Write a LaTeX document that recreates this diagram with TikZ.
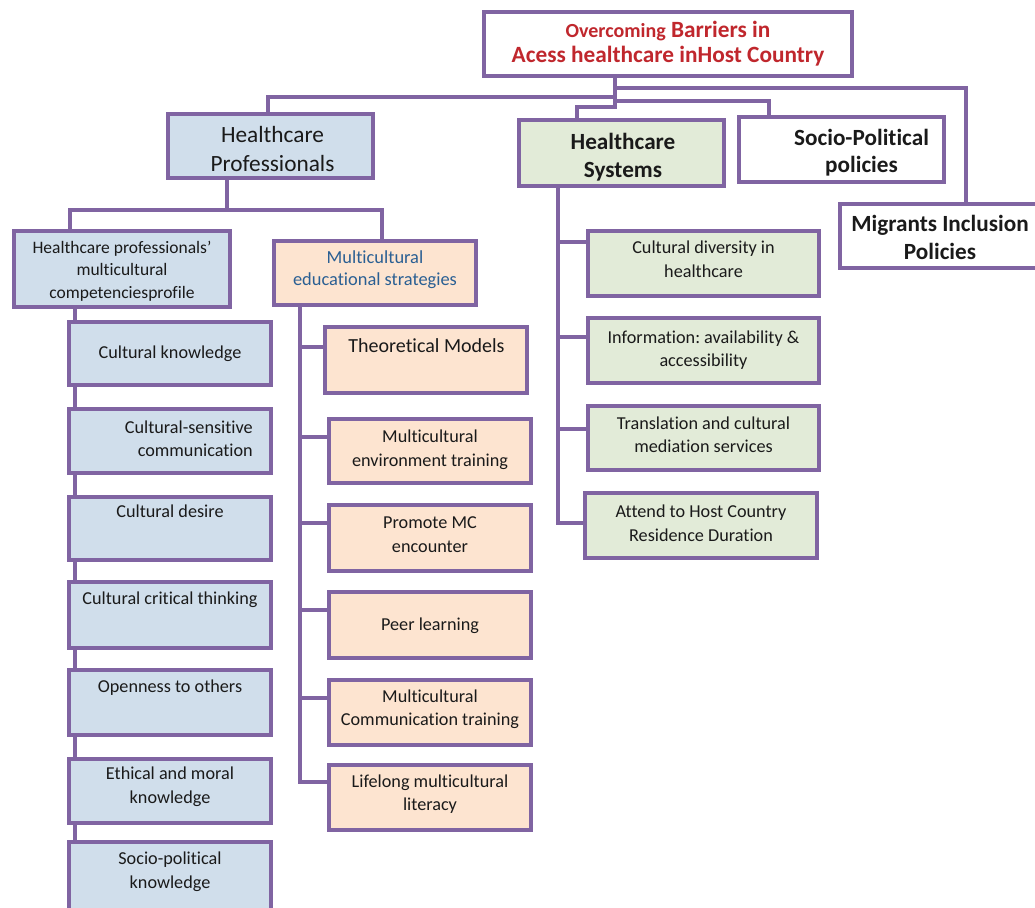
\documentclass[tikz,border=0pt]{standalone}
\usepackage{fontspec}
\setmainfont{Carlito}[Ligatures={TeX,NoCommon}]
\frenchspacing
\usetikzlibrary{backgrounds}
\definecolor{frame}{HTML}{8064A2}
\definecolor{bluefill}{HTML}{D0DEEB}
\definecolor{greenfill}{HTML}{E2EBD8}
\definecolor{peachfill}{HTML}{FDE4D0}
\definecolor{titlered}{HTML}{C0272D}
\definecolor{stratblue}{HTML}{2A5F93}
\definecolor{ink}{HTML}{1A1A1A}
\begin{document}
\begin{tikzpicture}[x=1pt,y=-1pt,
  box/.style={draw=frame, line width=4pt, rectangle, inner sep=0pt},
  size/.style 2 args={minimum width=#1, minimum height=#2},
  txt/.style={align=center, inner sep=0pt, text=ink,
    execute at begin node=\strut, execute at end node=\strut},
  link/.style={draw=frame, line width=4pt, line cap=rect},
  small/.style={font=\fontsize{18.2}{23.5}\selectfont},
  head/.style={font=\fontsize{23.2}{27.5}\selectfont\bfseries},
]
\useasboundingbox (0,0) rectangle (1035,907);

% ---- frames ----
\node[box, fill=white, size={368pt}{64pt}] (root) at (668,44) {};
\node[box, fill=bluefill, size={205pt}{64pt}] (hp) at (270.5,146) {};
\node[box, fill=greenfill, size={205pt}{66pt}] (hs) at (621.5,153) {};
\node[box, fill=white, size={205pt}{65.5pt}] (sp) at (841.5,149.25) {};
\node[box, fill=white, size={200pt}{64pt}] (mi) at (940,236) {};

\node[box, fill=bluefill, size={216pt}{76pt}] (hpmc) at (122,269) {};
\node[box, fill=peachfill, size={202pt}{64pt}] (mes) at (375,273) {};

\node[box, fill=bluefill, size={202pt}{63pt}] (ck) at (170,353.5) {};
\node[box, fill=bluefill, size={202pt}{64pt}] (csc) at (170,441) {};
\node[box, fill=bluefill, size={202pt}{63pt}] (cd) at (170,528.5) {};
\node[box, fill=bluefill, size={202pt}{66pt}] (cct) at (170,615) {};
\node[box, fill=bluefill, size={202pt}{65pt}] (oo) at (170,702.5) {};
\node[box, fill=bluefill, size={202pt}{64pt}] (emk) at (170,791) {};
\node[box, fill=bluefill, size={202pt}{70pt}] (spk) at (170,877) {};

\node[box, fill=peachfill, size={202pt}{66pt}] (tm) at (426,360) {};
\node[box, fill=peachfill, size={202pt}{64pt}] (met) at (430,451) {};
\node[box, fill=peachfill, size={202pt}{66pt}] (pmc) at (430,538) {};
\node[box, fill=peachfill, size={202pt}{66pt}] (pl) at (430,625) {};
\node[box, fill=peachfill, size={202pt}{65pt}] (mct) at (430,712.5) {};
\node[box, fill=peachfill, size={202pt}{65pt}] (lml) at (430,797.5) {};

\node[box, fill=greenfill, size={231pt}{65pt}] (cdh) at (703.5,263.5) {};
\node[box, fill=greenfill, size={231pt}{65pt}] (inf) at (703.5,350.5) {};
\node[box, fill=greenfill, size={231pt}{64pt}] (tr) at (703.5,438) {};
\node[box, fill=greenfill, size={232pt}{65pt}] (at) at (701,525.5) {};

% ---- labels ----
\node[txt, text=titlered, font=\fontsize{23.3}{25.7}\selectfont\bfseries] (root-t) at (668,45.7)
  {{\fontsize{20}{25.7}\selectfont Overcoming} Barriers in\\Acess healthcare inHost Country};
\node[txt, font=\fontsize{23.3}{29}\selectfont] (hp-t) at (272.5,152.9) {Healthcare\\Professionals};
\node[txt, head] (hs-t) at (623,159.7) {Healthcare\\Systems};
\node[txt, head] (sp-t) at (861.5,155) {Socio-Political\\policies};
\node[txt, head] (mi-t) at (940,241.5) {Migrants Inclusion\\Policies};

\node[txt, font=\fontsize{17.5}{22.5}\selectfont] (hpmc-t) at (122,272.8) {Healthcare professionals'\\multicultural\\competenciesprofile};
\node[txt, text=stratblue, font=\fontsize{18.4}{22.7}\selectfont] (mes-t) at (375,271.5) {Multicultural\\educational strategies};

\node[txt, small] (ck-t) at (170,353.8) {Cultural knowledge};
\node[txt, small, align=right, anchor=east] (csc-t) at (253,442.3) {Cultural-sensitive\\communication};
\node[txt, small] (cd-t) at (170,512.8) {Cultural desire};
\node[txt, small] (cct-t) at (170,599.8) {Cultural critical thinking};
\node[txt, small] (oo-t) at (170,687.8) {Openness to others};
\node[txt, small] (emk-t) at (170,788.8) {Ethical and moral\\knowledge};
\node[txt, small] (spk-t) at (170,873.8) {Socio-political\\knowledge};

\node[txt, font=\fontsize{20}{26}\selectfont] (tm-t) at (426.5,346.8) {Theoretical Models};
\node[txt, small] (met-t) at (430,451.5) {Multicultural\\environment training};
\node[txt, small] (pmc-t) at (430,538.3) {Promote MC\\encounter};
\node[txt, small] (pl-t) at (430,625.3) {Peer learning};
\node[txt, small] (mct-t) at (430,711.3) {Multicultural\\Communication training};
\node[txt, small] (lml-t) at (430,796.3) {Lifelong multicultural\\literacy};

\node[txt, small] (cdh-t) at (703.5,262.5) {Cultural diversity in\\healthcare};
\node[txt, small] (inf-t) at (703.5,352) {Information: availability \&\\accessibility};
\node[txt, small] (tr-t) at (703.5,438.3) {Translation and cultural\\mediation services};
\node[txt, small] (at-t) at (701,526.8) {Attend to Host Country\\Residence Duration};

% ---- connectors ----
\coordinate (railMI) at (615,88);
\coordinate (railHP) at (615,97);
\coordinate (railSP) at (615,101);
\coordinate (railHS) at (615,107);
\coordinate (railSub) at (227,210);
\coordinate (colL) at (75,0);
\coordinate (colM) at (300,0);
\coordinate (colR) at (558,0);

\begin{scope}[on background layer]
  \draw[link] (root.south -| railMI) -- (railHS);
  \draw[link] (railMI) -| ([xshift=26pt]mi.north);
  \draw[link] (railHP) -| ([xshift=-2.5pt]hp.north);
  \draw[link] (railSP) -| ([xshift=-72.5pt]sp.north);
  \draw[link] (railHS) -| ([xshift=-44.5pt]hs.north);

  \draw[link] (hp.south -| railSub) -- (railSub);
  \draw[link] (railSub) -| ([xshift=-52pt]hpmc.north);
  \draw[link] (railSub) -| ([xshift=7pt]mes.north);

  \draw[link] (hpmc.south -| colL) -- (spk.north -| colL);

  \draw[link] (mes.south -| colM) -- ([yshift=15.5pt]lml.west -| colM);
  \foreach \b/\d in {tm/13, met/14, pmc/15, pl/15, mct/14.5, lml/15.5}
    \draw[link] ([yshift=\d pt]\b.west -| colM) -- ([yshift=\d pt]\b.west);

  \draw[link] (hs.south -| colR) -- ([yshift=2.7pt]at.west -| colR);
  \foreach \b/\d in {cdh/21.8, inf/14, tr/9, at/2.7}
    \draw[link] ([yshift=\d pt]\b.west -| colR) -- ([yshift=\d pt]\b.west);
\end{scope}
\end{tikzpicture}
\end{document}
